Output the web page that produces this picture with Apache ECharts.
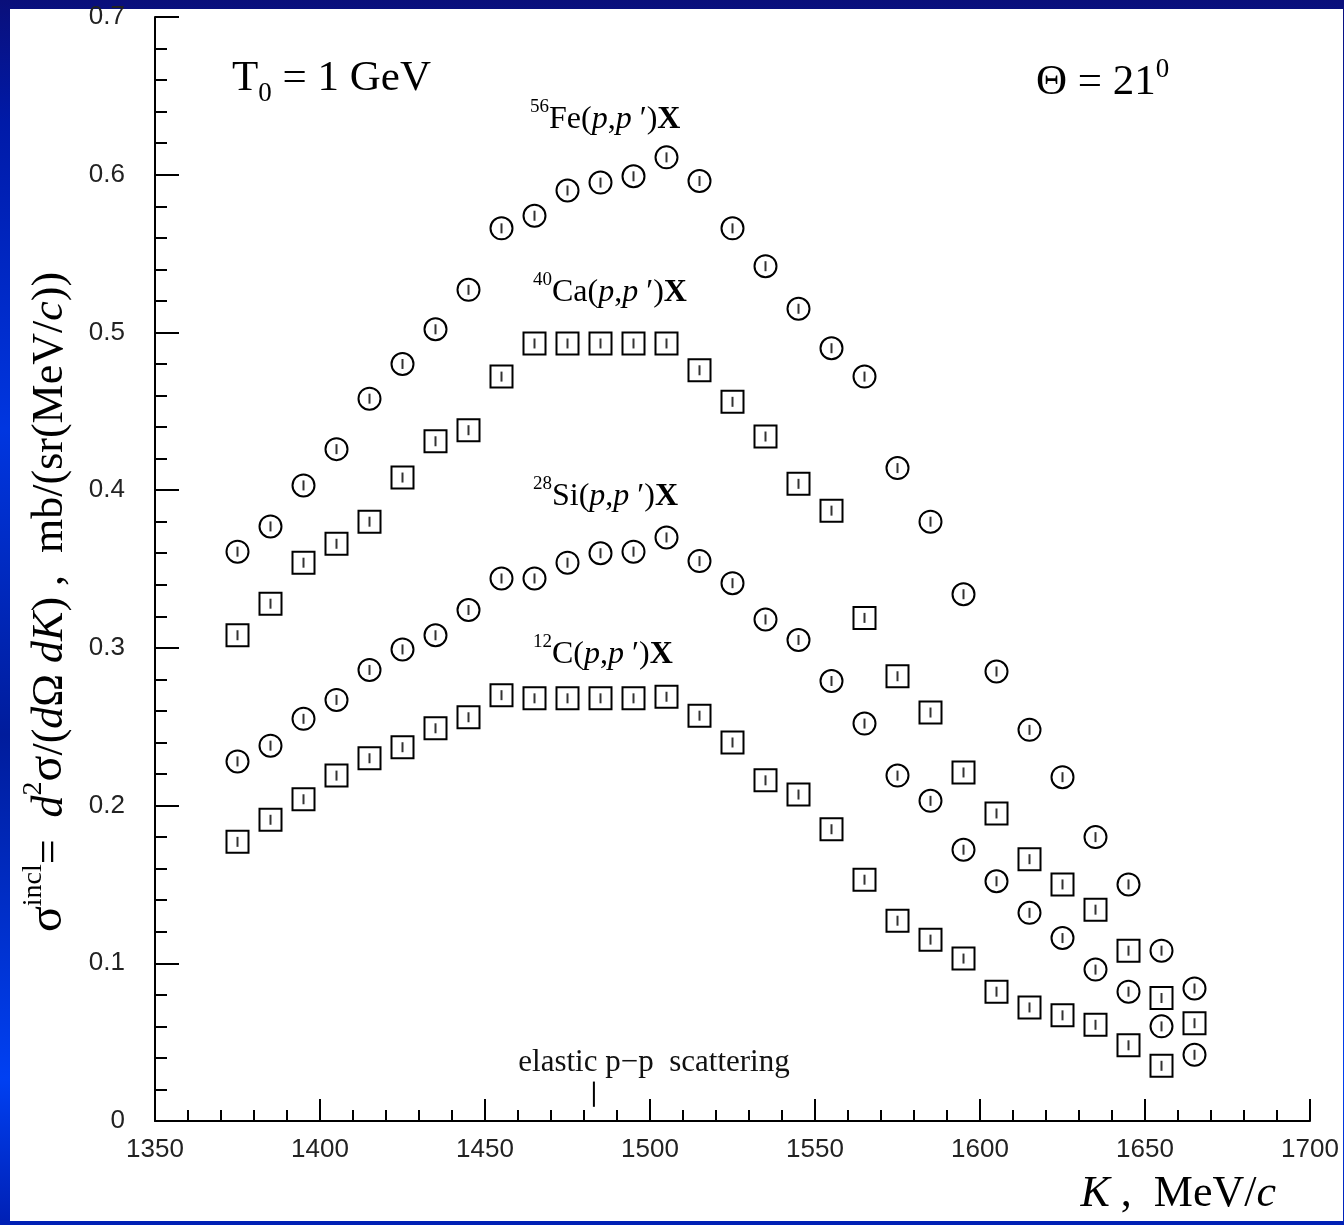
<!DOCTYPE html>
<html>
<head>
<meta charset="utf-8">
<script src="https://cdn.jsdelivr.net/npm/echarts@6/dist/echarts.min.js"></script>
<style>
  html, body { margin:0; padding:0; width:1344px; height:1225px; overflow:hidden;
    background: linear-gradient(to bottom, #0a0f7a 0%, #001aa8 10%, #0036e0 35%, #001c9c 60%, #0040f2 88%, #0020b4 100%); }
  #paper { position:absolute; left:10px; top:9px; width:1333px; height:1212px; background:#fff; }
  #main { position:absolute; left:0; top:0; width:1344px; height:1225px; }
</style>
</head>
<body>
<div id="paper"></div>
<div id="main"></div>
<script>
// Kinetic energy K (MeV/c) of the scattered proton
const K = [1375,1385,1395,1405,1415,1425,1435,1445,1455,1465,1475,1485,1495,1505,1515,1525,1535,1545,1555,1565,1575,1585,1595,1605,1615,1625,1635,1645,1655,1665];
// 56Fe(p,p')X  (circles)
const fe = [0.361,0.377,0.403,0.426,0.458,0.480,0.502,0.527,0.566,0.574,0.590,0.595,0.599,0.611,0.596,0.566,0.542,0.515,0.490,0.472,0.414,0.380,0.334,0.285,0.248,0.218,0.180,0.150,0.108,0.084];
// 40Ca(p,p')X  (squares)
const ca = [0.308,0.328,0.354,0.366,0.380,0.408,0.431,0.438,0.472,0.493,0.493,0.493,0.493,0.493,0.476,0.456,0.434,0.404,0.387,0.319,0.282,0.259,0.221,0.195,0.166,0.150,0.134,0.108,0.078,0.062];
// 28Si(p,p')X  (circles)
const si = [0.228,0.238,0.255,0.267,0.286,0.299,0.308,0.324,0.344,0.344,0.354,0.360,0.361,0.370,0.355,0.341,0.318,0.305,0.279,0.252,0.219,0.203,0.172,0.152,0.132,0.116,0.096,0.082,0.060,0.042];
// 12C(p,p')X  (squares)
const cc = [0.177,0.191,0.204,0.219,0.230,0.237,0.249,0.256,0.270,0.268,0.268,0.268,0.268,0.269,0.257,0.240,0.216,0.207,0.185,0.153,0.127,0.115,0.103,0.082,0.072,0.067,0.061,0.048,0.035,null];
// elastic p-p scattering marker
const elasticK = 1483;
const elasticY = [0.009, 0.025];

const serif = '"Liberation Serif", "Times New Roman", serif';
const sans = '"Liberation Sans", Arial, sans-serif';

function pts(v) { return K.map((k, i) => [k, v[i]]).filter(p => p[1] !== null); }

function ring(name, vals, shape) {
  return {
    name, type: 'scatter', data: pts(vals), symbol: shape,
    symbolSize: shape === 'circle' ? 22 : 22, z: 2, silent: true,
    itemStyle: { color: '#fff', borderColor: '#000', borderWidth: 2, opacity: 1 }
  };
}
function tick(name, vals) {
  return {
    name: name + '-err', type: 'scatter', data: pts(vals), symbol: 'rect',
    symbolSize: [2, 10], z: 3, silent: true, itemStyle: { color: '#000' }
  };
}

const chart = echarts.init(document.getElementById('main'));
chart.setOption({
  animation: false,
  backgroundColor: 'transparent',
  grid: { left: 155, right: 34, top: 17, bottom: 104, containLabel: false },
  xAxis: {
    type: 'value', min: 1350, max: 1700, interval: 50,
    axisLine: { show: true, onZero: false, lineStyle: { color: '#000', width: 2 } },
    axisTick: { show: true, inside: true, length: 22, lineStyle: { color: '#000', width: 2 } },
    minorTick: { show: true, splitNumber: 5, length: 11, lineStyle: { color: '#000', width: 2 } },
    splitLine: { show: false },
    axisLabel: { color: '#222', fontFamily: sans, fontSize: 26, margin: 16, formatter: v => String(v) }
  },
  yAxis: {
    type: 'value', min: 0, max: 0.7, interval: 0.1,
    axisLine: { show: true, onZero: false, lineStyle: { color: '#000', width: 2 } },
    axisTick: { show: true, inside: true, length: 24, lineStyle: { color: '#000', width: 2 } },
    minorTick: { show: true, splitNumber: 5, length: 12, lineStyle: { color: '#000', width: 2 } },
    splitLine: { show: false },
    axisLabel: { color: '#222', fontFamily: sans, fontSize: 26, margin: 30,
      formatter: v => v === 0 ? '0' : v.toFixed(1) }
  },
  series: [
    ring('Fe', fe, 'circle'), tick('Fe', fe),
    ring('Ca', ca, 'rect'), tick('Ca', ca),
    ring('Si', si, 'circle'), tick('Si', si),
    ring('C', cc, 'rect'), tick('C', cc),
    { name: 'elastic', type: 'line', data: elasticY.map(y => [elasticK, y]), symbol: 'none',
      lineStyle: { color: '#000', width: 2 }, silent: true, z: 1 }
  ],
  graphic: [
    { type: 'text', x: 232, y: 82, style: {
      text: '{n|T}{sub|0}{n| = 1 GeV}', textVerticalAlign: 'middle',
      rich: { n: { fontFamily: serif, fontSize: 43, fill: '#000', lineHeight: 50, verticalAlign: 'top' },
              sub: { fontFamily: serif, fontSize: 27, fill: '#000', lineHeight: 50, verticalAlign: 'bottom' } } } },
    { type: 'text', x: 1036, y: 80, style: {
      text: '{n|Θ = 21}{sup|0}', textVerticalAlign: 'middle',
      rich: { n: { fontFamily: serif, fontSize: 43, fill: '#000', lineHeight: 48, verticalAlign: 'bottom' },
              sup: { fontFamily: serif, fontSize: 27, fill: '#000', lineHeight: 27, verticalAlign: 'top' } } } },
    ...[['56', 'Fe', 530, 117], ['40', 'Ca', 533, 290], ['28', 'Si', 533, 494], ['12', 'C', 533, 652]].map(d => ({
      type: 'text', x: d[2], y: d[3], style: {
        text: '{sup|' + d[0] + '}{n|' + d[1] + '(}{i|p}{n|,}{i|p}{n| \u2032)}{b|X}', textVerticalAlign: 'middle',
        rich: { n: { fontFamily: serif, fontSize: 32, fill: '#000', lineHeight: 38, verticalAlign: 'bottom' },
                i: { fontFamily: serif, fontStyle: 'italic', fontSize: 32, fill: '#000', lineHeight: 38, verticalAlign: 'bottom' },
                b: { fontFamily: serif, fontWeight: 'bold', fontSize: 32, fill: '#000', lineHeight: 38, verticalAlign: 'bottom' },
                sup: { fontFamily: serif, fontSize: 19, fill: '#000', lineHeight: 19, verticalAlign: 'top' } } } })),
    { type: 'text', x: 654, y: 1063, style: { text: 'elastic p\u2212p  scattering', fontFamily: serif, fontSize: 31,
      fill: '#111', textAlign: 'center', textVerticalAlign: 'middle' } },
    { type: 'text', x: 1276, y: 1194, style: {
      text: '{i|K}{n| ,  MeV/}{i|c}', textAlign: 'right', textVerticalAlign: 'middle',
      rich: { n: { fontFamily: serif, fontSize: 44, fill: '#000' },
              i: { fontFamily: serif, fontStyle: 'italic', fontSize: 44, fill: '#000' } } } },
    { type: 'text', x: 46, y: 602, rotation: Math.PI / 2, style: {
      text: '{s|σ}{sup|incl}{n|=  }{i|d}{sup|2}{s|σ}{n|/(}{i|d}{n|Ω }{i|dK}{n|) ,  mb/(sr(MeV/}{i|c}{n|))}',
      textAlign: 'center', textVerticalAlign: 'middle',
      rich: { n: { fontFamily: serif, fontSize: 44, fill: '#000', lineHeight: 52, verticalAlign: 'bottom' },
              s: { fontFamily: serif, fontSize: 48, fill: '#000', lineHeight: 52, verticalAlign: 'bottom' },
              i: { fontFamily: serif, fontStyle: 'italic', fontSize: 44, fill: '#000', lineHeight: 52, verticalAlign: 'bottom' },
              sup: { fontFamily: serif, fontSize: 28, fill: '#000', lineHeight: 28, verticalAlign: 'top' } } } }
  ]
});
</script>
</body>
</html>
